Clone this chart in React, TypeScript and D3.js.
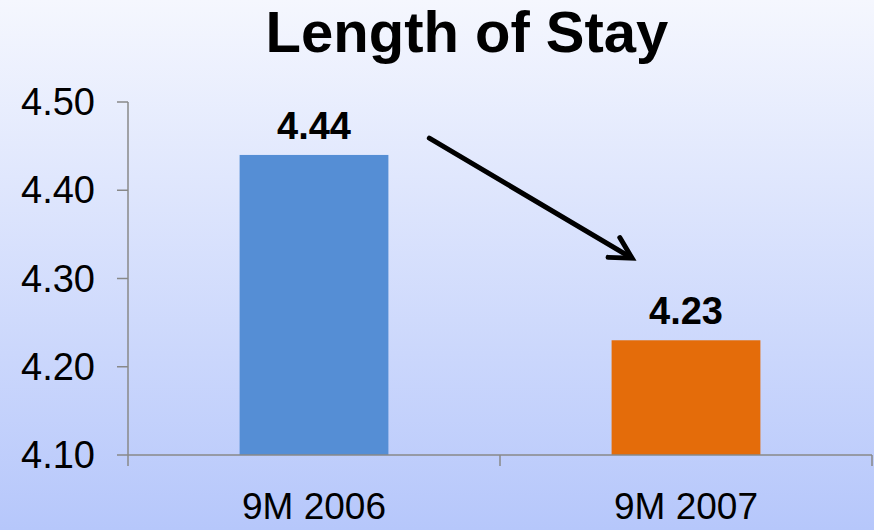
import React, { useEffect, useRef } from 'react'
import * as d3 from 'd3'

// Chart data
const categories = ['9M 2006', '9M 2007']
const values = [4.44, 4.23]
const barColors = ['#558ed5', '#e46c0a']
const yTicks = [4.1, 4.2, 4.3, 4.4, 4.5]

const W = 874
const H = 530

const App: React.FC = () => {
  const svgRef = useRef<SVGSVGElement | null>(null)

  useEffect(() => {
    document.body.style.margin = '0'
    const svg = d3.select(svgRef.current)
    svg.selectAll('*').remove()

    const left = 128
    const right = 872
    const top = 102
    const bottom = 455
    const font = 'Liberation Sans, Arial, sans-serif'

    const defs = svg.append('defs')
    const grad = defs
      .append('linearGradient')
      .attr('id', 'bg')
      .attr('x1', 0)
      .attr('y1', 0)
      .attr('x2', 0)
      .attr('y2', 1)
    grad.append('stop').attr('offset', '0%').attr('stop-color', '#f5f7fe')
    grad.append('stop').attr('offset', '100%').attr('stop-color', '#b6c7fb')

    svg.append('rect').attr('width', W).attr('height', H).attr('fill', 'url(#bg)')

    const x = d3.scaleBand().domain(categories).range([left, right]).padding(0)
    const y = d3.scaleLinear().domain([4.1, 4.5]).range([bottom, top])
    const barW = x.bandwidth() * 0.4

    // title
    svg
      .append('text')
      .attr('x', 467)
      .attr('y', 52)
      .attr('text-anchor', 'middle')
      .attr('font-family', font)
      .attr('font-weight', 'bold')
      .attr('font-size', 58)
      .attr('fill', '#000')
      .text('Length of Stay')

    // bars
    svg
      .selectAll('.bar')
      .data(values)
      .enter()
      .append('rect')
      .attr('x', (d, i) => x(categories[i])! + (x.bandwidth() - barW) / 2)
      .attr('y', (d) => y(d))
      .attr('width', barW)
      .attr('height', (d) => bottom - y(d))
      .attr('fill', (d, i) => barColors[i])

    // value labels
    svg
      .selectAll('.val')
      .data(values)
      .enter()
      .append('text')
      .attr('x', (d, i) => x(categories[i])! + x.bandwidth() / 2)
      .attr('y', (d) => y(d) - 16)
      .attr('text-anchor', 'middle')
      .attr('font-family', font)
      .attr('font-weight', 'bold')
      .attr('font-size', 38)
      .text((d) => d.toFixed(2))

    const axisColor = '#888888'
    const g = svg.append('g')

    // y axis
    g.append('line')
      .attr('x1', left).attr('x2', left)
      .attr('y1', top).attr('y2', bottom + 11)
      .attr('stroke', axisColor).attr('stroke-width', 1.5)
    yTicks.forEach((t) => {
      g.append('line')
        .attr('x1', left - 11).attr('x2', left)
        .attr('y1', y(t)).attr('y2', y(t))
        .attr('stroke', axisColor).attr('stroke-width', 1.5)
      g.append('text')
        .attr('x', 95)
        .attr('y', y(t) + 13)
        .attr('text-anchor', 'end')
        .attr('font-family', font)
        .attr('font-size', 38)
        .text(t.toFixed(2))
    })

    // x axis
    g.append('line')
      .attr('x1', left).attr('x2', right)
      .attr('y1', bottom).attr('y2', bottom)
      .attr('stroke', axisColor).attr('stroke-width', 1.5)
    categories.forEach((c) => {
      const xe = x(c)! + x.bandwidth()
      g.append('line')
        .attr('x1', xe).attr('x2', xe)
        .attr('y1', bottom).attr('y2', bottom + 11)
        .attr('stroke', axisColor).attr('stroke-width', 1.5)
      g.append('text')
        .attr('x', x(c)! + x.bandwidth() / 2)
        .attr('y', 519)
        .attr('text-anchor', 'middle')
        .attr('font-family', font)
        .attr('font-size', 37)
        .text(c)
    })

    // arrow annotation
    const x0 = x(categories[0])! + x.bandwidth() * 0.81
    const y0 = y(4.459)
    const x1 = x(categories[1])! + x.bandwidth() * 0.355
    const y1 = y(4.323)
    const ang = Math.atan2(y1 - y0, x1 - x0)
    svg
      .append('line')
      .attr('x1', x0).attr('y1', y0)
      .attr('x2', x1 - Math.cos(ang) * 3).attr('y2', y1 - Math.sin(ang) * 3)
      .attr('stroke', '#000').attr('stroke-width', 5).attr('stroke-linecap', 'round')
    const headLen = 24
    const spread = 0.5
    const p1 = [x1 - headLen * Math.cos(ang - spread), y1 - headLen * Math.sin(ang - spread)]
    const p2 = [x1 - headLen * Math.cos(ang + spread), y1 - headLen * Math.sin(ang + spread)]
    svg
      .append('path')
      .attr('d', `M${p1[0]},${p1[1]} L${x1},${y1} L${p2[0]},${p2[1]}`)
      .attr('fill', 'none')
      .attr('stroke', '#000')
      .attr('stroke-width', 5)
      .attr('stroke-linecap', 'round')
      .attr('stroke-linejoin', 'miter')
  }, [])

  return (
    <svg
      ref={svgRef}
      width={W}
      height={H}
      style={{ position: 'absolute', left: 0, top: 0, display: 'block' }}
    ></svg>
  )
}

export default App
